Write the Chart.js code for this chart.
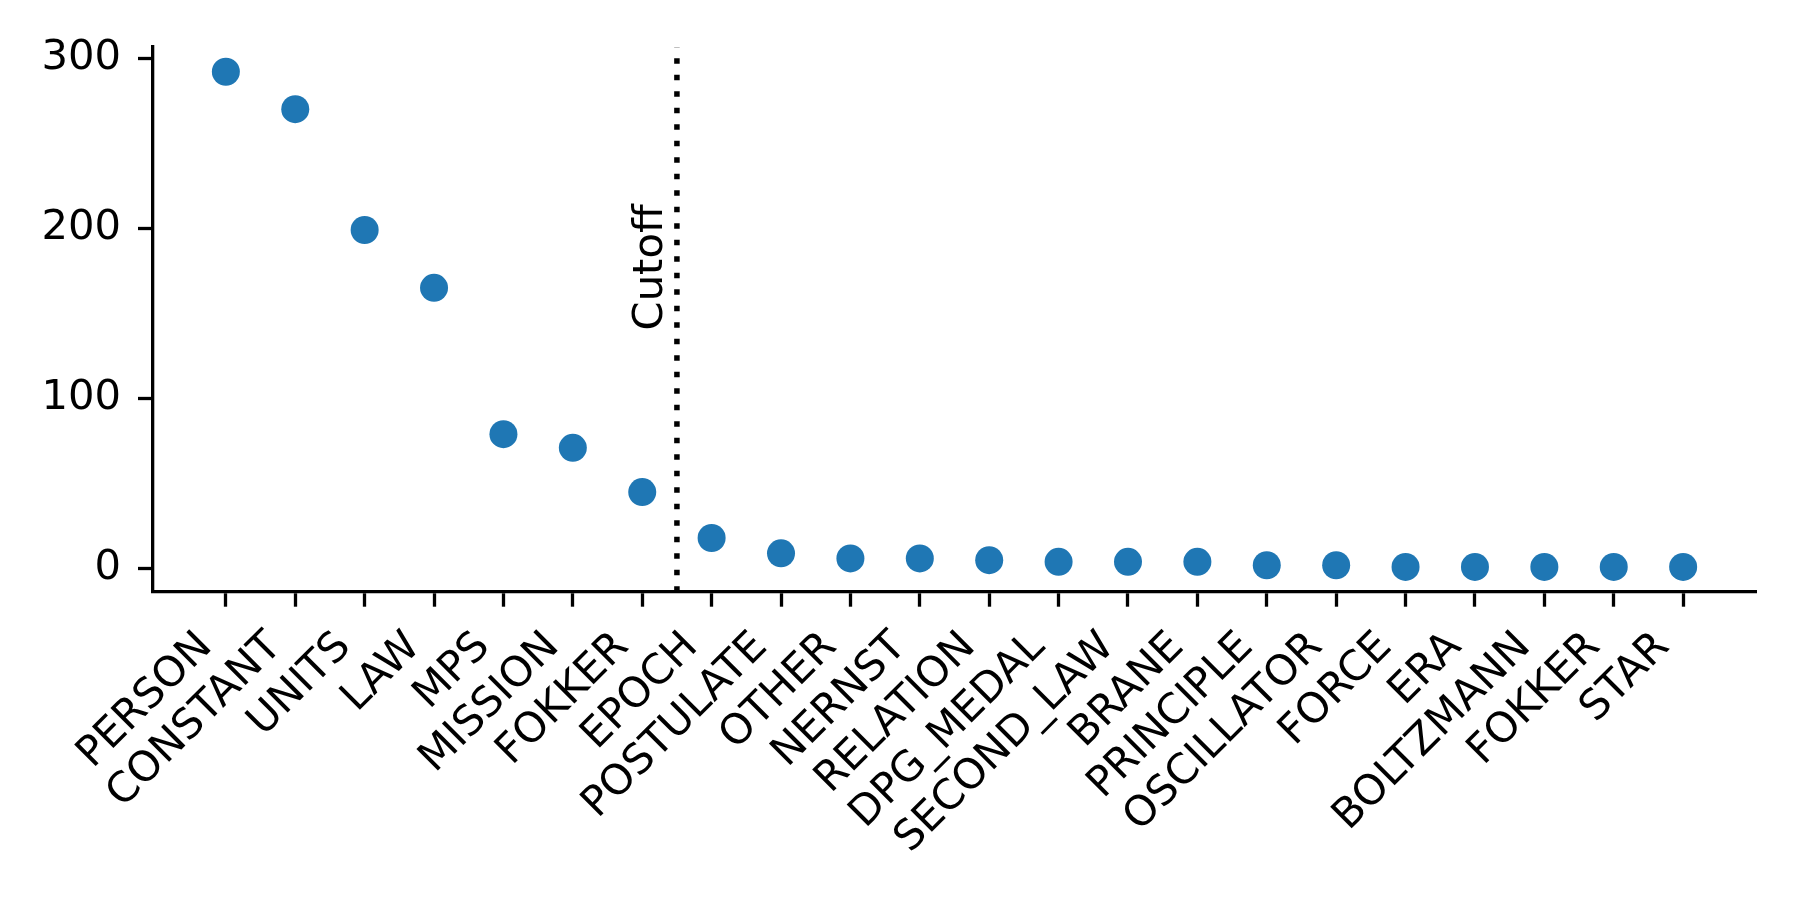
<!DOCTYPE html>
<html>
<head>
<meta charset="utf-8">
<script src="https://cdn.jsdelivr.net/npm/chart.js@4.4.1/dist/chart.umd.min.js"></script>
<style>
  html, body { margin: 0; padding: 0; background: #fff; }
  #chart { display: block; }
</style>
</head>
<body>
<canvas id="chart" width="1800" height="900"></canvas>
<script>
// categories along x (order as in the plot)
const categories = [
  "PERSON", "CONSTANT", "UNITS", "LAW", "MPS", "MISSION", "FOKKER",
  "EPOCH", "POSTULATE", "OTHER", "NERNST", "RELATION", "DPG_MEDAL",
  "SECOND_LAW", "BRANE", "PRINCIPLE", "OSCILLATOR", "FORCE", "ERA",
  "BOLTZMANN", "FOKKER", "STAR"
];
// counts
const counts = [292, 270, 199, 165, 79, 71, 45, 18, 9, 6, 6, 5, 4, 4, 4, 2, 2, 1, 1, 1, 1, 1];
const yTicks = [0, 100, 200, 300];
// cutoff sits between FOKKER and EPOCH
const cutoffX = 6.5;
const cutoffLabel = "Cutoff";
const cutoffLabelY = 140;

const font = "DejaVu Sans";
const fontSize = 41.7;

// dotted vertical line + rotated label
const cutoffPlugin = {
  id: "cutoff",
  afterDatasetsDraw(chart) {
    const { ctx, chartArea, scales } = chart;
    const x = scales.x.getPixelForValue(cutoffX);
    ctx.save();
    ctx.strokeStyle = "#000";
    ctx.lineWidth = 5.5;
    ctx.lineCap = "butt";
    ctx.setLineDash([5.5, 11]);
    ctx.beginPath();
    ctx.moveTo(x, chartArea.bottom);
    ctx.lineTo(x, chartArea.top);
    ctx.stroke();
    ctx.setLineDash([]);
    // label reads bottom to top, baseline just left of the line
    ctx.translate(x - 15, scales.y.getPixelForValue(cutoffLabelY));
    ctx.rotate(-Math.PI / 2);
    ctx.fillStyle = "#000";
    ctx.font = fontSize + "px '" + font + "'";
    ctx.textAlign = "left";
    ctx.textBaseline = "alphabetic";
    ctx.fillText(cutoffLabel, 0, 0);
    ctx.restore();
  }
};

const data = {
  datasets: [{
    data: counts.map((c, i) => ({ x: i, y: c })),
    backgroundColor: "#1f77b4",
    borderColor: "#1f77b4",
    borderWidth: 0,
    pointRadius: 14,
    pointHoverRadius: 14
  }]
};

const config = {
  type: "scatter",
  data: data,
  options: {
    responsive: false,
    animation: false,
    devicePixelRatio: 1,
    layout: { padding: { top: 47, right: 44, left: 0, bottom: 0 } },
    plugins: {
      legend: { display: false },
      tooltip: { enabled: false }
    },
    scales: {
      x: {
        type: "linear",
        min: -1.05,
        max: categories.length - 1 + 1.05,
        afterBuildTicks: (scale) => {
          scale.ticks = categories.map((_, i) => ({ value: i }));
        },
        afterFit: (scale) => { scale.height = 308.3; },
        grid: {
          drawOnChartArea: false,
          drawTicks: true,
          tickLength: 15,
          tickWidth: 3.3,
          tickColor: "#000"
        },
        border: { display: true, color: "#000", width: 3.3 },
        ticks: {
          autoSkip: false,
          minRotation: 45,
          maxRotation: 45,
          padding: 16,
          labelOffset: -20,
          color: "#000",
          font: { family: font, size: fontSize },
          callback: (v) => categories[v]
        }
      },
      y: {
        min: -13.55,
        max: 306.55,
        afterBuildTicks: (scale) => {
          scale.ticks = yTicks.map((v) => ({ value: v }));
        },
        afterFit: (scale) => { scale.width = 153; },
        grid: {
          drawOnChartArea: false,
          drawTicks: true,
          tickLength: 15,
          tickWidth: 3.3,
          tickColor: "#000"
        },
        border: { display: true, color: "#000", width: 3.3 },
        ticks: {
          padding: 17,
          color: "#000",
          font: { family: font, size: fontSize }
        }
      }
    }
  },
  plugins: [cutoffPlugin]
};

new Chart(document.getElementById("chart").getContext("2d"), config);
</script>
</body>
</html>
